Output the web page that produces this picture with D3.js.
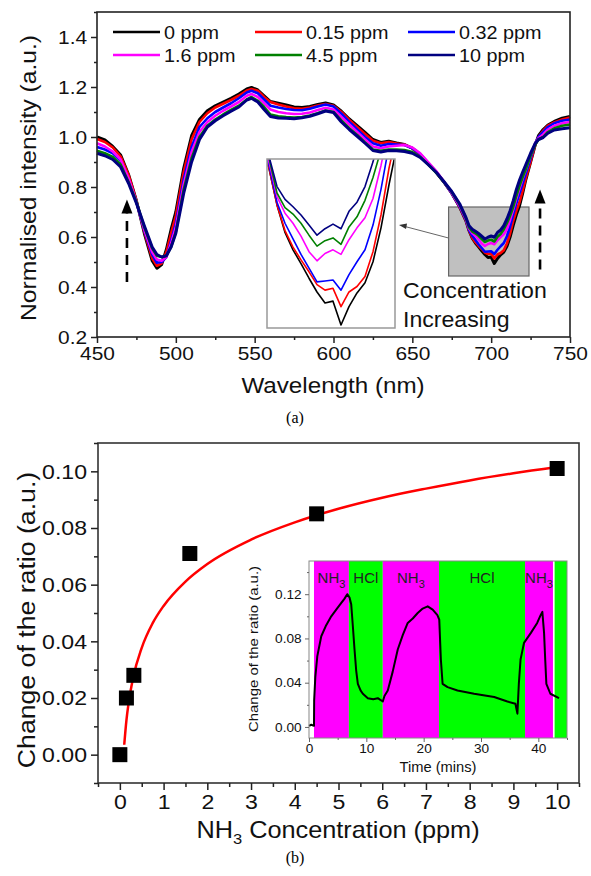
<!DOCTYPE html>
<html><head><meta charset="utf-8">
<script src="https://cdn.jsdelivr.net/npm/d3@7"></script>
<style>body{margin:0;background:#fff}svg{display:block}</style>
</head><body><svg id="c" width="591" height="876"></svg>
<script>
// ---------------- DATA ----------------
const wavelengths=[450,455,460,465,470,475,480,485,488,491,494,497,500,505,510,515,520,525,530,535,540,545,548,552,556,560,565,570,575,580,585,590,595,600,605,610,615,620,625,630,635,640,645,650,655,660,665,670,675,680,684,686,688,690,692,694,696,698,700,702,704,706,708,710,712,714,716,718,720,722,725,728,730,733,736,740,745,750];
const seriesNames=["0 ppm","0.15 ppm","0.32 ppm","1.6 ppm","4.5 ppm","10 ppm"];
const seriesColors=["#000000","#ff0000","#0000ff","#ff00ff","#008000","#000080"];
const int0ppm=[1.000,0.988,0.962,0.928,0.850,0.745,0.615,0.505,0.475,0.490,0.550,0.630,0.700,
0.875,1.005,1.070,1.105,1.125,1.140,1.155,1.172,1.192,
1.198,1.188,1.165,1.142,
1.135,1.128,1.120,1.118,1.122,1.130,1.136,1.128,1.103,1.072,1.045,1.018,0.990,0.978,0.983,0.976,0.970,0.955,0.930,0.895,0.860,0.820,0.775,0.720,
0.665,0.625,0.595,0.576,0.561,0.545,0.530,0.518,0.520,0.494,0.514,0.529,0.540,0.563,0.600,0.647,0.690,0.725,0.775,0.830,
0.900,0.970,1.005,1.030,1.048,1.062,1.075,1.082];
const int015ppm=[0.992,0.980,0.958,0.922,0.848,0.745,0.620,0.515,0.485,0.495,0.540,0.615,0.685,
0.860,0.990,1.060,1.095,1.118,1.133,1.148,1.165,1.186,
1.192,1.185,1.160,1.140,
1.130,1.122,1.115,1.113,1.118,1.126,1.132,1.125,1.100,1.068,1.040,1.012,0.985,0.975,0.980,0.974,0.970,0.955,0.930,0.895,0.860,0.820,0.775,0.720,
0.665,0.625,0.597,0.579,0.565,0.552,0.538,0.532,0.534,0.514,0.530,0.536,0.547,0.574,0.614,0.665,0.705,0.740,0.785,0.835,
0.900,0.970,1.000,1.025,1.045,1.058,1.070,1.078];
const int032ppm=[0.960,0.950,0.935,0.905,0.830,0.740,0.625,0.530,0.497,0.500,0.520,0.585,0.655,
0.830,0.960,1.040,1.075,1.100,1.118,1.135,1.155,1.178,
1.185,1.175,1.150,1.125,
1.118,1.112,1.108,1.107,1.113,1.122,1.130,1.122,1.093,1.060,1.030,1.000,0.975,0.965,0.972,0.970,0.968,0.955,0.932,0.897,0.862,0.820,0.775,0.722,
0.668,0.628,0.605,0.588,0.571,0.556,0.541,0.542,0.543,0.532,0.549,0.563,0.576,0.603,0.642,0.690,0.735,0.775,0.815,0.855,
0.915,0.975,1.000,1.020,1.040,1.055,1.065,1.070];
const int16ppm=[0.975,0.962,0.942,0.910,0.835,0.740,0.630,0.540,0.510,0.505,0.520,0.575,0.640,
0.810,0.940,1.020,1.060,1.085,1.105,1.122,1.140,1.165,
1.172,1.160,1.135,1.110,
1.100,1.095,1.092,1.093,1.098,1.108,1.117,1.110,1.080,1.050,1.020,0.990,0.962,0.955,0.962,0.965,0.968,0.958,0.935,0.900,0.865,0.822,0.777,0.725,
0.672,0.634,0.616,0.605,0.591,0.574,0.564,0.572,0.576,0.571,0.587,0.600,0.611,0.632,0.668,0.710,0.755,0.795,0.835,0.870,
0.925,0.975,0.995,1.010,1.030,1.045,1.055,1.060];
const int45ppm=[0.945,0.935,0.920,0.890,0.820,0.740,0.640,0.555,0.525,0.520,0.525,0.560,0.620,
0.790,0.915,1.000,1.045,1.070,1.090,1.108,1.125,1.150,
1.160,1.145,1.120,1.090,
1.083,1.080,1.078,1.080,1.086,1.095,1.106,1.100,1.066,1.035,1.008,0.978,0.950,0.945,0.950,0.950,0.948,0.940,0.920,0.890,0.858,0.820,0.780,0.730,
0.676,0.638,0.622,0.615,0.605,0.592,0.580,0.586,0.589,0.582,0.601,0.612,0.630,0.655,0.685,0.720,0.765,0.805,0.840,0.872,
0.925,0.970,0.990,1.000,1.020,1.035,1.045,1.050];
const int10ppm=[0.935,0.925,0.910,0.880,0.815,0.735,0.645,0.560,0.530,0.520,0.525,0.560,0.615,
0.775,0.900,0.990,1.040,1.065,1.085,1.103,1.120,1.148,
1.155,1.140,1.110,1.082,
1.076,1.075,1.073,1.077,1.083,1.093,1.104,1.098,1.060,1.030,1.003,0.975,0.946,0.940,0.946,0.945,0.942,0.935,0.918,0.890,0.860,0.822,0.782,0.733,
0.678,0.645,0.631,0.623,0.614,0.603,0.592,0.599,0.604,0.599,0.618,0.628,0.645,0.672,0.705,0.745,0.790,0.828,0.860,0.890,
0.935,0.975,0.990,0.998,1.015,1.028,1.033,1.037];
const spectra=[int0ppm,int015ppm,int032ppm,int16ppm,int45ppm,int10ppm];

const concPpm=[0,0.15,0.32,1.6,4.5,10];
const ratioChange=[0.000,0.020,0.028,0.071,0.085,0.101];
const fitPpm=[0.1,0.15,0.2,0.3,0.5,0.75,1,1.5,2,3,4,5,6,7,8,9,10];
const fitRatio=[0.0035,0.0121,0.0182,0.0269,0.0377,0.0464,0.0525,0.0611,0.0673,0.0759,0.0820,0.0868,0.0907,0.0939,0.0968,0.0993,0.1015];

const timeMin=[0,0.4,0.87,0.9,1.1,1.45,2.14,3.0,3.88,5.04,6.2,6.67,7.07,7.36,7.65,7.94,8.23,8.52,8.99,9.39,10.26,11.2,12.0,12.87,13.16,13.74,14.6,15.48,16.35,17.22,18.1,18.96,19.83,20.7,21.57,22.4,22.72,23.0,23.3,24.17,25.9,28.8,32.3,34.6,36.0,36.35,36.6,36.9,37.5,38.7,39.8,40.4,40.7,41.0,41.2,41.4,42.1,43.6];
const timeRatio=[0.001,0.002,0.001,0.024,0.045,0.064,0.082,0.092,0.100,0.108,0.116,0.120,0.117,0.111,0.091,0.070,0.051,0.039,0.033,0.030,0.026,0.025,0.026,0.023,0.028,0.033,0.050,0.070,0.083,0.094,0.098,0.103,0.107,0.109,0.106,0.101,0.097,0.061,0.039,0.036,0.033,0.030,0.027,0.023,0.021,0.012,0.039,0.061,0.076,0.085,0.094,0.101,0.104,0.085,0.061,0.039,0.030,0.026];
const bandStart=[0.87,6.96,12.87,22.67,37.68,42.84];
const bandEnd=[6.96,12.87,22.67,37.68,42.55,45];
const bandGas=["NH3","HCl","NH3","HCl","NH3","HCl"];
const bandLabel=["NH3","HCl","NH3","HCl","NH3",""];

const ticksA_x=[450,500,550,600,650,700,750];
const ticksA_y=[0.2,0.4,0.6,0.8,1.0,1.2,1.4];
const ticksB_x=[0,1,2,3,4,5,6,7,8,9,10];
const ticksB_y=[0,0.02,0.04,0.06,0.08,0.10];
const ticksI_x=[0,10,20,30,40];
const ticksI_y=[0,0.04,0.08,0.12];

// ---------------- DRAW ----------------
const FONT="'Liberation Sans', Arial, sans-serif";
const SX=1.1;
const svg=d3.select("#c");
const TXT="#111";

function label(g,x,y,str,size,anchor,rot,sx){
  const t=g.append("text")
    .attr("transform",`translate(${x},${y}) rotate(${rot||0}) scale(${sx||SX},1)`)
    .attr("font-family",FONT).attr("font-size",size).attr("fill",TXT)
    .attr("text-anchor",anchor||"middle");
  if(str) t.text(str);
  return t;
}
function styleAxis(sel,size,col,sw,tsx){
  sel.select(".domain").remove();
  sel.selectAll("line").attr("stroke",col).attr("stroke-width",sw);
  sel.selectAll("text").attr("font-family",FONT).attr("font-size",size).attr("fill",TXT)
     .attr("transform",`scale(${tsx||SX},1)`);
}

// ===== Panel (a) =====
const xA=d3.scaleLinear().domain([450,750]).range([97,570]);
const yA=d3.scaleLinear().domain([0.2,1.5]).range([337,12]);
const gA=svg.append("g");

// zoom box (grey)
const zb={l0:673,l1:724,v0:0.444,v1:0.72};
gA.append("rect").attr("x",xA(zb.l0)).attr("y",yA(zb.v1))
  .attr("width",xA(zb.l1)-xA(zb.l0)).attr("height",yA(zb.v0)-yA(zb.v1))
  .attr("fill","#c0c0c0").attr("stroke","#666").attr("stroke-width",1.2);

const lineA=d3.line().x((d,i)=>xA(wavelengths[i])).y(d=>yA(d));
spectra.forEach((s,k)=>{
  gA.append("path").datum(s).attr("d",lineA).attr("fill","none")
    .attr("stroke",seriesColors[k]).attr("stroke-width",k===0||k===5?3:2.6)
    .attr("stroke-linejoin","round");
});

// frame
gA.append("rect").attr("x",97).attr("y",12).attr("width",473).attr("height",325)
  .attr("fill","none").attr("stroke","#222").attr("stroke-width",1.6);

// axes
const axAx=gA.append("g").attr("transform","translate(0,337)")
  .call(d3.axisBottom(xA).tickValues(ticksA_x).tickSize(6).tickPadding(4).tickFormat(d3.format("d")));
styleAxis(axAx,19,"#222",1.5);
const axAxm=gA.append("g").attr("transform","translate(0,337)")
  .call(d3.axisBottom(xA).tickValues(d3.range(475,750,50)).tickSize(3).tickFormat(""));
styleAxis(axAxm,19,"#222",1.5);
const axAy=gA.append("g").attr("transform","translate(97,0)")
  .call(d3.axisLeft(yA).tickValues(ticksA_y).tickSize(6).tickPadding(3).tickFormat(d3.format(".1f")));
styleAxis(axAy,19,"#222",1.5);
const axAym=gA.append("g").attr("transform","translate(97,0)")
  .call(d3.axisLeft(yA).tickValues([0.3,0.5,0.7,0.9,1.1,1.3,1.5]).tickSize(3).tickFormat(""));
styleAxis(axAym,19,"#222",1.5);

label(gA,333,393,"Wavelength (nm)",22,"middle",0);
label(gA,36,178,"Normalised intensity (a.u.)",22,"middle",-90,1.12);
svg.append("text").attr("x",295).attr("y",423).attr("text-anchor","middle")
  .attr("font-family","'Liberation Serif','Times New Roman',serif").attr("font-size",16).attr("fill","#000").text("(a)");

// legend
const legX=[113,255,408], legY=[32,55];
seriesNames.forEach((n,k)=>{
  const cx=legX[k%3], cy=legY[Math.floor(k/3)];
  gA.append("line").attr("x1",cx).attr("x2",cx+47).attr("y1",cy).attr("y2",cy)
    .attr("stroke",seriesColors[k]).attr("stroke-width",2.6);
  label(gA,cx+51,cy+6.5,n,18,"start",0);
});

// dashed arrows
function dashArrow(x,yBase,yTip){
  gA.append("line").attr("x1",x).attr("x2",x).attr("y1",yBase).attr("y2",yTip+14)
    .attr("stroke","#000").attr("stroke-width",2.6).attr("stroke-dasharray","10,7");
  gA.append("path").attr("d",`M${x},${yTip} L${x-5.5},${yTip+14} L${x+5.5},${yTip+14} Z`).attr("fill","#000");
}
dashArrow(xA(469),yA(0.42),yA(0.75));
dashArrow(xA(731),yA(0.47),yA(0.79));

// inset box (zoom of the 700 nm dip)
const ib={x:267,y:159,w:128,h:169};
const xI=d3.scaleLinear().domain([683.5,715.5]).range([ib.x,ib.x+ib.w]);
const yI=d3.scaleLinear().domain([0.4907,0.674]).range([ib.y+ib.h,ib.y+1]);
gA.append("rect").attr("x",ib.x).attr("y",ib.y).attr("width",ib.w).attr("height",ib.h).attr("fill","#fff");
svg.append("clipPath").attr("id","clipI").append("rect").attr("x",ib.x).attr("y",ib.y).attr("width",ib.w).attr("height",ib.h);
const lineI=d3.line().x((d,i)=>xI(wavelengths[i])).y(d=>yI(d));
const gI=gA.append("g").attr("clip-path","url(#clipI)");
spectra.forEach((s,k)=>{
  gI.append("path").datum(s).attr("d",lineI).attr("fill","none")
    .attr("stroke",seriesColors[k]).attr("stroke-width",1.6).attr("stroke-linejoin","round");
});
gA.append("rect").attr("x",ib.x).attr("y",ib.y).attr("width",ib.w).attr("height",ib.h)
  .attr("fill","none").attr("stroke","#999").attr("stroke-width",1.5);

// connector
const cx0=xA(zb.l0), cy0=yA(zb.v1)+31, cx1=ib.x+ib.w+4, cy1=225;
gA.append("line").attr("x1",cx0).attr("y1",cy0).attr("x2",cx1+6).attr("y2",cy1+1.5).attr("stroke","#666").attr("stroke-width",1);
gA.append("path").attr("d",`M${cx1},${cy1} L${cx1+8},${cy1-1.5} L${cx1+7},${cy1+4} Z`).attr("fill","#333");

label(gA,403,298,"Concentration",22,"start",0,1.05);
label(gA,403,327,"Increasing",22,"start",0,1.05);

// ===== Panel (b) =====
const xB=d3.scaleLinear().domain([-0.5,10.5]).range([98,579]);
const yB=d3.scaleLinear().domain([-0.01,0.11]).range([783,443]);
const gB=svg.append("g");

gB.append("rect").attr("x",98).attr("y",443).attr("width",481).attr("height",340)
  .attr("fill","none").attr("stroke","#333").attr("stroke-width",1.6);

const axBx=gB.append("g").attr("transform","translate(0,783)")
  .call(d3.axisBottom(xB).tickValues(ticksB_x).tickSize(7).tickPadding(4).tickFormat(d3.format("d")));
styleAxis(axBx,21,"#222",1.5);
const axBxm=gB.append("g").attr("transform","translate(0,783)")
  .call(d3.axisBottom(xB).tickValues(d3.range(-0.5,10.6,1)).tickSize(4).tickFormat(""));
styleAxis(axBxm,21,"#222",1.5);
const axBy=gB.append("g").attr("transform","translate(98,0)")
  .call(d3.axisLeft(yB).tickValues(ticksB_y).tickSize(7).tickPadding(3).tickFormat(d3.format(".2f")));
styleAxis(axBy,21,"#222",1.5);
const axBym=gB.append("g").attr("transform","translate(98,0)")
  .call(d3.axisLeft(yB).tickValues([-0.01,0.01,0.03,0.05,0.07,0.09,0.11]).tickSize(4).tickFormat(""));
styleAxis(axBym,21,"#222",1.5);

const tB=label(gB,338,838,"",23,"middle",0);
tB.append("tspan").text("NH");
tB.append("tspan").attr("font-size",15).attr("dy",6).text("3");
tB.append("tspan").attr("dy",-6).text(" Concentration (ppm)");
label(gB,35,620,"Change of the ratio (a.u.)",23,"middle",-90,1.16);
svg.append("text").attr("x",295).attr("y",863).attr("text-anchor","middle")
  .attr("font-family","'Liberation Serif','Times New Roman',serif").attr("font-size",16).attr("fill","#000").text("(b)");

// inset (time response)
const xT=d3.scaleLinear().domain([0,45]).range([309,567]);
const yT=d3.scaleLinear().domain([-0.01,0.15]).range([738,561]);
const gT=svg.append("g");
bandStart.forEach((s,i)=>{
  gT.append("rect").attr("x",xT(s)).attr("y",561).attr("width",xT(bandEnd[i])-xT(s)).attr("height",177)
    .attr("fill",bandGas[i]==="NH3"?"#ff00ff":"#00ff00");
});
gT.append("path").datum(timeRatio)
  .attr("d",d3.line().x((d,i)=>xT(timeMin[i])).y(d=>yT(d)))
  .attr("fill","none").attr("stroke","#000").attr("stroke-width",2).attr("stroke-linejoin","round");
gT.append("rect").attr("x",309).attr("y",561).attr("width",258).attr("height",177)
  .attr("fill","none").attr("stroke","#888").attr("stroke-width",1);
bandLabel.forEach((lb,i)=>{
  if(!lb) return;
  const cx=(xT(bandStart[i])+xT(bandEnd[i]))/2;
  const t=label(gT,cx,583,"",15,"middle",0,1.0).attr("fill","#222");
  if(lb==="NH3"){
    t.append("tspan").text("NH");
    t.append("tspan").attr("font-size",11).attr("dy",5).text("3");
  } else t.text(lb);
});
const axTx=gT.append("g").attr("transform","translate(0,738)")
  .call(d3.axisBottom(xT).tickValues(ticksI_x).tickSize(4).tickPadding(2).tickFormat(d3.format("d")));
styleAxis(axTx,13,"#666",1,1.05);
const axTxm=gT.append("g").attr("transform","translate(0,738)")
  .call(d3.axisBottom(xT).tickValues([5,15,25,35,45]).tickSize(2).tickFormat(""));
styleAxis(axTxm,13,"#666",1);
const axTy=gT.append("g").attr("transform","translate(309,0)")
  .call(d3.axisLeft(yT).tickValues(ticksI_y).tickSize(4).tickPadding(3).tickFormat(d3.format(".2f")));
styleAxis(axTy,13,"#666",1,1.05);
const axTym=gT.append("g").attr("transform","translate(309,0)")
  .call(d3.axisLeft(yT).tickValues([0.02,0.06,0.10,0.14]).tickSize(2).tickFormat(""));
styleAxis(axTym,13,"#666",1);
label(gT,438,772,"Time (mins)",14,"middle",0,1.05);
label(gT,258,649,"Change of the ratio (a.u.)",13,"middle",-90,1.15);

// main (b) data on top
const gBd=svg.append("g");
gBd.append("path").datum(fitRatio)
  .attr("d",d3.line().x((d,i)=>xB(fitPpm[i])).y(d=>yB(d)).curve(d3.curveMonotoneX))
  .attr("fill","none").attr("stroke","#ff0000").attr("stroke-width",2.5);
gBd.selectAll("rect.pt").data(ratioChange).enter().append("rect").attr("class","pt")
  .attr("x",(d,i)=>xB(concPpm[i])-7.5).attr("y",d=>yB(d)-7.5).attr("width",15).attr("height",15).attr("fill","#000");
</script></body></html>
